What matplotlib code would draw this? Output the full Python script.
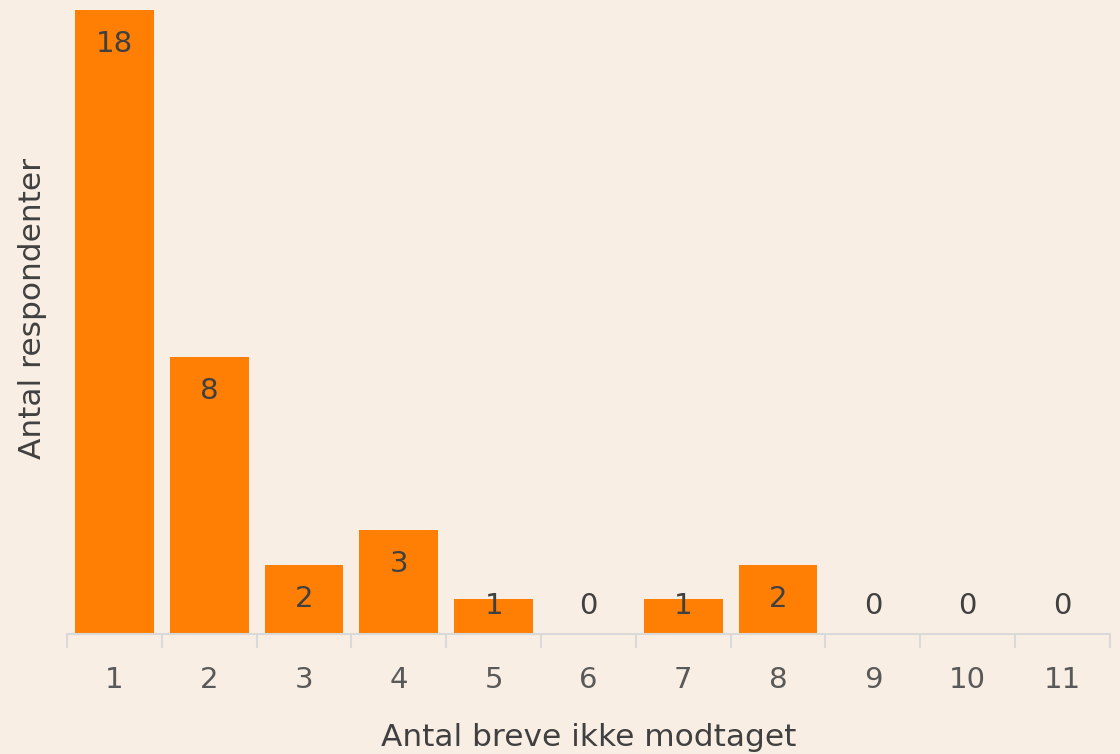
import matplotlib.pyplot as plt

categories = ["1", "2", "3", "4", "5", "6", "7", "8", "9", "10", "11"]
respondents = [18, 8, 2, 3, 1, 0, 1, 2, 0, 0, 0]

bg = "#F9EEE4"
bar_color = "#FF7F04"

plt.rcParams['font.family'] = ['DejaVu Sans']

fig = plt.figure(figsize=(11.2, 7.54), dpi=100, facecolor=bg)
ax = fig.add_axes([0.0598, 0.1592, 0.9312, 0.8275])
ax.set_facecolor(bg)

x = list(range(len(categories)))
ax.bar(x, respondents, width=0.83, color=bar_color, zorder=2)

# value labels inside top of bar
for xi, v in zip(x, respondents):
    y = max(v - 0.98, 0.81)
    ax.text(xi, y, str(v), ha="center", va="center", fontsize=21, color="#404040", zorder=3)

ax.set_xlim(-0.5, len(categories) - 0.5)
ax.set_ylim(0, 18)

ax.set_xticks(x)
ax.set_xticklabels(categories, fontsize=21, color="#595959")
ax.tick_params(axis="x", which="major", length=0, pad=23)
ax.set_xticks([i - 0.5 for i in range(len(categories) + 1)], minor=True)
ax.tick_params(axis="x", which="minor", length=10, width=1.5, color="#D9D9D9")
ax.set_yticks([])

for s in ["top", "right", "left"]:
    ax.spines[s].set_visible(False)
ax.spines["bottom"].set_color("#D9D9D9")
ax.spines["bottom"].set_linewidth(1.5)

ax.set_xlabel("Antal breve ikke modtaget", fontsize=22.5, color="#404040", labelpad=21)
ax.set_ylabel("Antal respondenter", fontsize=22.5, color="#404040")
ax.yaxis.set_label_coords(-0.019, 0.521)

fig.savefig("out.png", dpi=100, facecolor=bg)
